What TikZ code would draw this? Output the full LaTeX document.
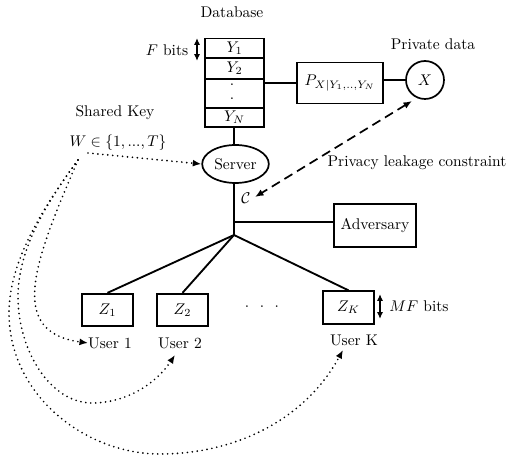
\documentclass[tikz,border=0pt]{standalone}
\usepackage{amsmath,amssymb}
\usetikzlibrary{calc,arrows.meta,shapes.geometric}
\tikzset{
    box/.style={draw,line width=1.1pt,inner sep=0pt},
    wire/.style={line width=1.2pt},
    keyline/.style={line width=1.2pt,line cap=round,dash pattern=on 0pt off 3.2pt,-{Latex[length=5.5pt,width=4.5pt]}},
    sizearrow/.style={line width=0.9pt,{Latex[length=4.5pt,width=4pt]}-{Latex[length=4.5pt,width=4pt]}},
}
\begin{document}
\begin{tikzpicture}[x=0.645pt,y=-0.645pt]
            \useasboundingbox (0,0) rectangle (507,460);
            % database
            \node (DB) at (232,12) {Database};
            \node[box,minimum width=38.5pt,minimum height=13pt] (Y1) at (234.5,48.5) {\(Y_1\)};
            \node[box,minimum width=38.5pt,minimum height=13.5pt] (Y2) at (234.5,68.5) {\(Y_2\)};
            \node[box,minimum width=38.5pt,minimum height=19pt] (Ydots) at (234.5,93.5) {};
            \node[box,minimum width=38.5pt,minimum height=12.5pt] (YN) at (234.5,117.5) {\(Y_N\)};
            \node[inner sep=0pt] (d1) at (232,85) {.};
            \node[inner sep=0pt] (d2) at (232,99) {.};
            \node (Fbits) at (167,50) {\(F\) bits};
            \coordinate (Fa) at (197,38);
            \coordinate (Fb) at (197,61);
            \draw[sizearrow] (Fa)--(Fb);
            % server
            \node[draw,ellipse,line width=1.1pt,minimum width=43pt,minimum height=24.5pt,inner sep=0pt] (S) at (235.5,164) {Server};
            \coordinate (Ys) at (234,127);
            \draw[wire] (Ys)--(Ys |- S.north);
            \coordinate (J) at (234,235);
            \coordinate (T) at (234,222);
            \draw[wire] (J |- S.south)--(J);
            \node (C) at (246,198) {\(\mathcal{C}\)};
            % private data
            \node[box,minimum width=55.5pt,minimum height=26.5pt] (P) at (340,83) {\(P_{X|Y_1,..,Y_N}\)};
            \node[draw,circle,line width=1.1pt,minimum size=24.5pt,inner sep=0pt] (X) at (425,80) {\(X\)};
            \node (PD) at (433,44) {Private data};
            \draw[wire] (P.west -| Ydots.east)--(P.west);
            \draw[wire] (P.east |- X.west)--(X.west);
            \node (PL) at (417,163) {Privacy leakage constraint};
            \coordinate (La) at (412,101);
            \coordinate (Lb) at (255,197);
            \draw[line width=1.1pt,dash pattern=on 6pt off 3.5pt,{Latex[length=5.5pt,width=4.5pt]}-{Latex[length=5.5pt,width=4.5pt]}] (La)--(Lb);
            % adversary
            \node[box,minimum width=53pt,minimum height=28pt] (A) at (375,225.5) {Adversary};
            \draw[wire] (T)--(A.west |- T);
            % users
            \node[box,minimum width=33pt,minimum height=21pt] (Z1) at (107.5,310) {\(Z_1\)};
            \node[box,minimum width=33pt,minimum height=21pt] (Z2) at (182.5,310) {\(Z_2\)};
            \node[box,minimum width=33pt,minimum height=21pt] (ZK) at (348.5,307.5) {\(Z_K\)};
            \draw[wire] (J)--(Z1.north);
            \draw[wire] (J)--(Z2.north);
            \draw[wire] (J)--(ZK.north);
            \node (U1) at (110,343) {User 1};
            \node (U2) at (180,343) {User 2};
            \node (UK) at (354,340) {User K};
            \node (dots) at (262,307) {\(\cdot\hspace{4.6pt}\cdot\hspace{4.6pt}\cdot\)};
            \node (MF) at (419,306) {\(MF\) bits};
            \coordinate (Ma) at (380,294);
            \coordinate (Mb) at (380,319);
            \draw[sizearrow] (Ma)--(Mb);
            % shared key
            \node (SK) at (115,113) {Shared Key};
            \node (W) at (118,143) {\(W\in\{1,...,T\}\)};
            \coordinate (W1) at (88,153);
            \coordinate (W2) at (78,160);
            \coordinate (E1) at (88,343);
            \coordinate (E2) at (175,355);
            \coordinate (E3) at (343,350);
            \draw[keyline] (W1)--(S.west);
            \draw[keyline] (W2) .. controls (35,260) and (6,332) .. (E1);
            \draw[keyline] (W2) .. controls (45,205) and (18,250) .. (18,297) .. controls (18,350) and (50,403) .. (92,403) .. controls (125,403) and (155,385) .. (E2);
            \draw[keyline] (W2) .. controls (45,205) and (9,260) .. (9,313) .. controls (9,395) and (85,454) .. (160,454) .. controls (235,454) and (305,420) .. (E3);
        \end{tikzpicture}
\end{document}
